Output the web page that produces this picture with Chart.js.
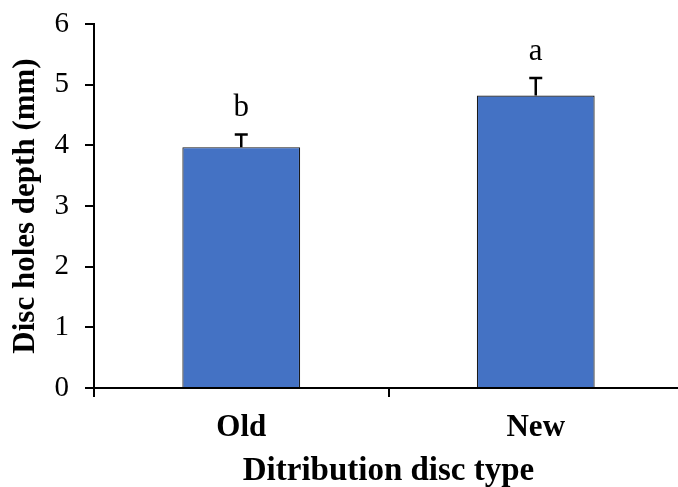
<!DOCTYPE html>
<html>
<head>
<meta charset="utf-8">
<script src="https://cdn.jsdelivr.net/npm/chart.js@4.4.0/dist/chart.umd.min.js"></script>
<style>
    html, body { margin: 0; padding: 0; background: #fff; overflow: hidden; }
    #wrap { width: 684px; height: 487px; position: relative; }
</style>
</head>
<body>
<div id="wrap"><canvas id="depthChart"></canvas></div>
<script>
// データ
const categories = ['Old', 'New'];
const depthValues = [3.97, 4.82];
const depthErrors = [0.21, 0.29];
const letters = ['b', 'a'];
const yTicks = [0, 1, 2, 3, 4, 5, 6];

const serif = "'Liberation Serif', 'Times New Roman', serif";

// 誤差棒と有意差記号を描くプラグイン
const errorBarPlugin = {
    id: 'errorBars',
    afterDatasetsDraw(chart) {
        const ctx = chart.ctx;
        const meta = chart.getDatasetMeta(0);
        const y = chart.scales.y;
        ctx.save();
        ctx.strokeStyle = '#000';
        ctx.lineWidth = 2.5;
        meta.data.forEach((bar, i) => {
            const base = y.getPixelForValue(depthValues[i]);
            const top = y.getPixelForValue(depthValues[i] + depthErrors[i]);
            ctx.beginPath();
            ctx.moveTo(bar.x, base);
            ctx.lineTo(bar.x, top);
            ctx.moveTo(bar.x - 6.5, top);
            ctx.lineTo(bar.x + 6.5, top);
            ctx.stroke();

            ctx.fillStyle = '#000';
            ctx.font = '31px ' + serif;
            ctx.textAlign = 'center';
            ctx.textBaseline = 'alphabetic';
            ctx.fillText(letters[i], bar.x, top - 18);
        });
        ctx.restore();
    }
};

const ctx = document.getElementById('depthChart').getContext('2d');
new Chart(ctx, {
    type: 'bar',
    data: {
        labels: categories,
        datasets: [{
            data: depthValues,
            backgroundColor: '#4472C4',
            borderColor: '#1a1a1a',
            borderWidth: 1.2,
            borderSkipped: 'bottom',
            barPercentage: 0.4,
            categoryPercentage: 1.0
        }]
    },
    options: {
        responsive: true,
        maintainAspectRatio: false,
        animation: false,
        layout: {
            padding: { top: 24, right: 1, left: 0, bottom: 0 }
        },
        scales: {
            y: {
                min: 0,
                max: 6,
                afterBuildTicks(axis) {
                    axis.ticks = yTicks.map(v => ({ value: v }));
                },
                afterFit(axis) {
                    axis.width = 94;
                    axis.paddingTop = 0;
                    axis.paddingBottom = 0;
                },
                ticks: {
                    color: '#000',
                    padding: 16,
                    font: { family: serif, size: 29 }
                },
                grid: {
                    drawOnChartArea: false,
                    color: '#000',
                    lineWidth: 2,
                    tickLength: 9
                },
                border: { color: '#000', width: 2 },
                title: {
                    display: true,
                    text: 'Disc holes depth (mm)',
                    color: '#000',
                    padding: { top: 7, bottom: 0 },
                    font: { family: serif, size: 31, weight: 'bold' }
                }
            },
            x: {
                afterFit(axis) {
                    axis.height = 99;
                },
                ticks: {
                    color: '#000',
                    padding: 12,
                    font: { family: serif, size: 31, weight: 'bold' }
                },
                grid: {
                    offset: true,
                    drawOnChartArea: false,
                    color: '#000',
                    lineWidth: 2,
                    tickLength: 9
                },
                border: { color: '#000', width: 2 },
                title: {
                    display: true,
                    text: 'Ditribution disc type',
                    color: '#000',
                    padding: { top: 0, bottom: -4 },
                    font: { family: serif, size: 33, weight: 'bold' }
                }
            }
        },
        plugins: {
            legend: { display: false },
            tooltip: { enabled: false }
        }
    },
    plugins: [errorBarPlugin]
});
</script>
</body>
</html>
